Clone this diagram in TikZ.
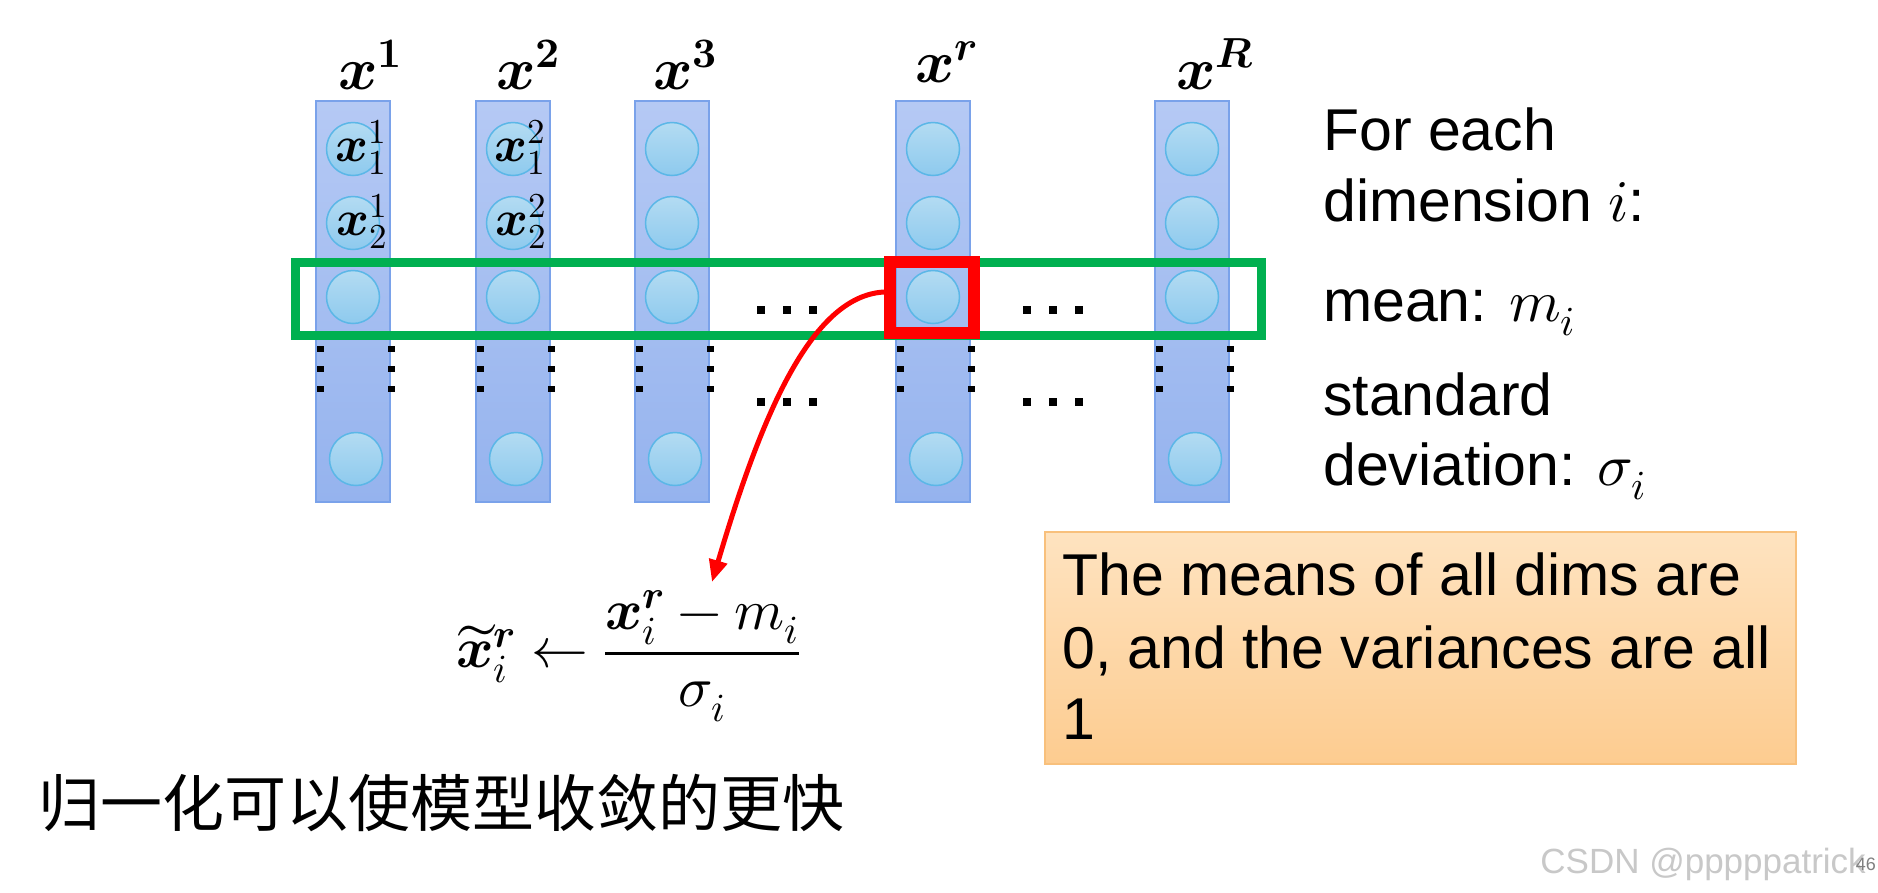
\documentclass[tikz,border=0pt]{standalone}
\usepackage{fontspec}
\usepackage{unicode-math}
\setmainfont{Liberation Sans}
\setmathfont{Latin Modern Math}
\newfontfamily\cjk{Noto Sans CJK SC}
\usetikzlibrary{arrows.meta,shadings}
\definecolor{colTop}{HTML}{B5C9F4}
\definecolor{colBot}{HTML}{95B3EE}
\definecolor{colLine}{HTML}{7AA2EA}
\definecolor{cirTop}{HTML}{B3DBF2}
\definecolor{cirBot}{HTML}{8ECAEE}
\definecolor{cirLine}{HTML}{5BB7E7}
\definecolor{grn}{HTML}{00B050}
\definecolor{orgTop}{HTML}{FEE3C0}
\definecolor{orgBot}{HTML}{FDCC90}
\definecolor{orgLine}{HTML}{F8C07C}
\definecolor{wmark}{HTML}{C8C8C8}
\newcommand\sqdot[3]{\fill (#1-#3/2,#2-#3/2) rectangle (#1+#3/2,#2+#3/2);}
\begin{document}
\begin{tikzpicture}[x=1pt,y=-1pt,
  colbox/.style={rectangle, draw=colLine, line width=1.5pt, top color=colTop, bottom color=colBot, minimum width=74pt, minimum height=401pt, inner sep=0pt},
  unit/.style={circle, draw=cirLine, line width=1.5pt, top color=cirTop, bottom color=cirBot, minimum size=53pt, inner sep=0pt},
  lbl/.style={inner sep=0pt, font=\fontsize{60}{70}\selectfont},
  inlbl/.style={inner sep=0pt, font=\fontsize{50}{60}\selectfont},
  txt/.style={inner sep=0pt, anchor=base west, font=\fontsize{59}{70}\selectfont},
  rowbox/.style={rectangle, draw=grn, line width=9pt, inner sep=0pt},
  selbox/.style={rectangle, draw=red, line width=12pt, inner sep=0pt},
  notebox/.style={rectangle, draw=orgLine, line width=1.5pt, top color=orgTop, bottom color=orgBot, inner sep=0pt, anchor=north west},
]
\useasboundingbox (0,0) rectangle (1878,892);
\fill[white] (0,0) rectangle (1878,892);

% columns and units
\foreach \n/\cx in {1/353,2/513,3/672,4/933,5/1192} {
  \node[colbox] (col\n) at (\cx,301.5) {};
  \node[unit] (u\n-1) at (\cx,149) {};
  \node[unit] (u\n-2) at (\cx,223) {};
  \node[unit] (u\n-3) at (\cx,297) {};
  \node[unit] (u\n-4) at (\cx+3,459) {};
  \sqdot{\cx-32.5}{349}{6.5}
  \sqdot{\cx-32.5}{369}{6.5}
  \sqdot{\cx-32.5}{389}{6.5}
  \sqdot{\cx+38.5}{349}{6.5}
  \sqdot{\cx+38.5}{369}{6.5}
  \sqdot{\cx+38.5}{389}{6.5}
}

% labels inside units
\node[inlbl] (a11) at (361,147) {$\symbfit{x}_{1}^{1}$};
\node[inlbl] (a12) at (362,221) {$\symbfit{x}_{2}^{1}$};
\node[inlbl] (a21) at (520,147) {$\symbfit{x}_{1}^{2}$};
\node[inlbl] (a22) at (521,221) {$\symbfit{x}_{2}^{2}$};

% column labels
\node[lbl, anchor=base west] (x1) at (338,89) {$\symbfit{x}^{\symbf{1}}$};
\node[lbl, anchor=base west] (x2) at (496,89) {$\symbfit{x}^{\symbf{2}}$};
\node[lbl, anchor=base west] (x3) at (653,89) {$\symbfit{x}^{\symbf{3}}$};
\node[lbl, anchor=base west] (xr) at (915,82) {$\symbfit{x}^{\symbfit{r}}$};
\node[lbl, anchor=base west] (xR) at (1176,89) {$\symbfit{x}^{\symbfit{R}}$};

% horizontal ellipses
\foreach \dx in {760.5,786.5,812.5,1027,1053,1079} {
  \sqdot{\dx}{310}{8}
  \sqdot{\dx}{402}{8}
}

% green row box and red selection
\node[rowbox, minimum width=966pt, minimum height=73pt] (row) at (778.5,298.5) {};
\node[selbox, minimum width=84pt, minimum height=71pt] (sel) at (932,297.5) {};

% formula
\node[inner sep=0pt, font=\fontsize{57}{66}\selectfont] (form) at (628,656)
  {$\displaystyle \widetilde{\symbfit{x}}_{i}^{\symbfit{r}} \leftarrow \frac{\symbfit{x}_{i}^{\symbfit{r}} - m_{i}}{\sigma_{i}}$};
\coordinate (tip) at (712,582);
\draw[red, line width=5pt, -{Triangle[length=22pt,width=18pt]}]
  ([yshift=5.5pt]sel.west) .. controls (810,296) and (760,420) .. (tip);

% right text
\node[txt] (t1) at (1323,150) {For each};
\node[txt] (t2) at (1323,221) {dimension $i$:};
\node[txt] (t3) at (1323,321) {mean: $m_{i}$};
\node[txt] (t4) at (1323,415) {standard};
\node[txt] (t5) at (1323,485) {deviation: $\sigma_{i}$};

% note box
\node[notebox, minimum width=751pt, minimum height=232pt] (note) at (1044,531) {};
\node[txt] (n1) at (1062,595) {The means of all dims are};
\node[txt] (n2) at (1062,668) {0, and the variances are all};
\node[txt] (n3) at (1062,739) {1};

% chinese text
\node[inner sep=0pt, anchor=base west, font=\cjk\fontsize{62}{70}\selectfont] (cn) at (38.5,826) {归一化可以使模型收敛的更快};

% watermark
\node[inner sep=0pt, anchor=base east, text=wmark, font=\fontsize{35}{40}\selectfont] (wm) at (1866,873) {CSDN @pppppatrick};
\node[inner sep=0pt, anchor=base east, text=gray, font=\fontsize{18}{20}\selectfont] (pg) at (1876,870) {46};
\end{tikzpicture}
\end{document}
